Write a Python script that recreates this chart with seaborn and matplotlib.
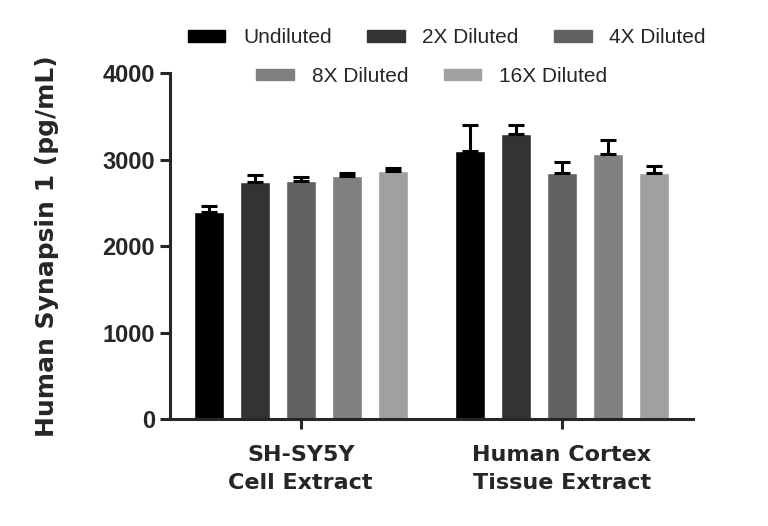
import seaborn as sns
import pandas as pd
import matplotlib.pyplot as plt

groups = ['SH-SY5Y\nCell Extract', 'Human Cortex\nTissue Extract']
dilutions = ['Undiluted', '2X Diluted', '4X Diluted', '8X Diluted', '16X Diluted']
colors = ['#000000', '#333333', '#626262', '#808080', '#a0a0a2']

# mean and SD per dilution, one list per sample
sh_mean = [2390, 2740, 2750, 2815, 2865]
sh_sd = [70, 80, 45, 35, 40]
cortex_mean = [3100, 3295, 2850, 3070, 2850]
cortex_sd = [305, 100, 125, 155, 75]

rows = []
for g, means, sds in [(groups[0], sh_mean, sh_sd), (groups[1], cortex_mean, cortex_sd)]:
    for d, m, s in zip(dilutions, means, sds):
        rows.append({'Sample': g, 'Dilution': d, 'Mean': m, 'SD': s})
df = pd.DataFrame(rows)

sns.set_style('ticks')
plt.rcParams['font.family'] = ['Liberation Sans', 'DejaVu Sans']

fig = plt.figure(figsize=(7.68, 5.26), dpi=100)
ax = fig.add_axes([0.2214, 0.2034, 0.902 - 0.2214, 0.861 - 0.2034])

sns.barplot(data=df, x='Sample', y='Mean', hue='Dilution', order=groups,
            hue_order=dilutions, palette=colors, errorbar=None,
            width=0.88, gap=0.34, saturation=1, ax=ax)

# upper error bars only
for d, cont in zip(dilutions, ax.containers):
    sub = df[df['Dilution'] == d].set_index('Sample').loc[groups]
    xs = [b.get_x() + b.get_width() / 2 for b in cont.patches]
    ys = [b.get_height() for b in cont.patches]
    ax.errorbar(xs, ys, yerr=[[0] * len(xs), sub['SD'].values], fmt='none',
                ecolor='black', elinewidth=2.2, capsize=5.5, capthick=2.2, zorder=3)

ax.get_legend().remove()
handles = [plt.Rectangle((0, 0), 1, 1, color=c) for c in colors]
leg_kw = dict(frameon=False, fontsize=15, handlelength=1.8, handleheight=0.45,
              handletextpad=0.85, columnspacing=1.7, borderaxespad=0)
leg1 = fig.legend(handles[:3], dilutions[:3], ncol=3, loc='center',
                  bbox_to_anchor=(0.582, 0.928), **leg_kw)
leg2 = fig.legend(handles[3:], dilutions[3:], ncol=2, loc='center',
                  bbox_to_anchor=(0.562, 0.854), **leg_kw)

ax.set_xlim(-0.5, 1.5)
ax.set_ylim(0, 4000)
ax.set_yticks([0, 1000, 2000, 3000, 4000])
ax.set_xlabel('')
ax.set_ylabel('Human Synapsin 1 (pg/mL)', fontsize=18, fontweight='bold',
              family='DejaVu Sans')
ax.yaxis.set_label_coords(-0.212, 0.5)
ax.tick_params(axis='both', width=2.2, length=7)
ax.tick_params(axis='y', labelsize=17, pad=4)
ax.tick_params(axis='x', labelsize=16, pad=12)
for lab in ax.get_yticklabels():
    lab.set_fontweight('bold')
for lab in ax.get_xticklabels():
    lab.set_fontweight('bold')
    lab.set_family('DejaVu Sans')
    lab.set_linespacing(1.45)
for s in ['left', 'bottom']:
    ax.spines[s].set_linewidth(2.2)
sns.despine(ax=ax)

fig.savefig('out.png', dpi=100)
